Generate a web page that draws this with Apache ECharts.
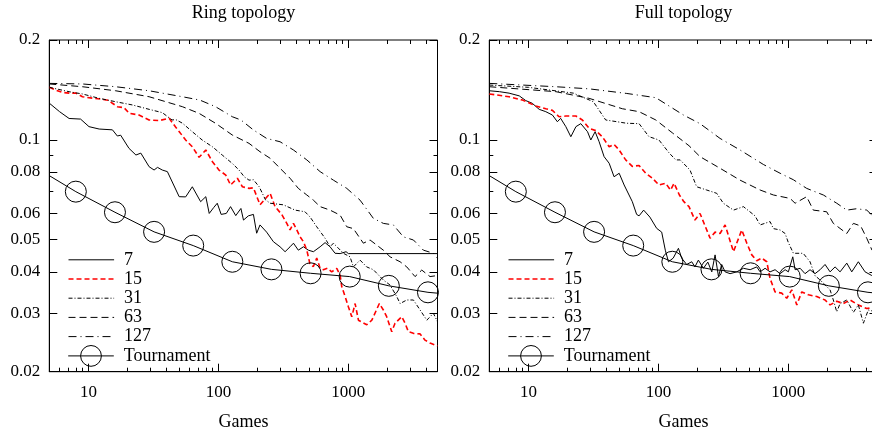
<!DOCTYPE html>
<html><head><meta charset="utf-8">
<script src="https://cdn.jsdelivr.net/npm/echarts@6/dist/echarts.min.js"></script>
<style>html,body{margin:0;padding:0;background:#fff}#c{width:872px;height:434px}</style>
</head><body><div id="c"></div>
<script>
// ---------- tick values ----------
const xMajorTicks = [10, 100, 1000];
const xMinorTicks = [6,7,8,9,20,30,40,50,60,70,80,90,200,300,400,500,600,700,800,900,2000,3000,4000];
const yMajorTicks = [0.2, 0.1, 0.08, 0.06, 0.05, 0.04, 0.03, 0.02];
const yMinorTicks = [0.09, 0.07];
const xRange = [5, 4850];
const yRange = [0.02, 0.2];
const panelTitles = ['Ring topology', 'Full topology'];
const seriesNames = ['7', '15', '31', '63', '127', 'Tournament'];

// ---------- Ring topology ----------
const ring7 = [[5,0.129],[6,0.1216],[7.1,0.116],[8.7,0.1155],[10.1,0.1096],[12.1,0.1078],[15.3,0.1072],[16.7,0.1027],[17.7,0.1033],[20.5,0.0943],[23.2,0.090],[25.3,0.0912],[29.3,0.083],[32,0.0811],[34,0.0826],[37,0.0811],[40.5,0.0802],[49.9,0.0674],[56,0.0673],[63,0.0722],[73,0.0651],[80,0.0674],[85,0.060],[92,0.0625],[98,0.0644],[105,0.0596],[115,0.060],[124,0.0629],[136,0.0591],[149,0.0621],[156,0.0573],[170,0.059],[186,0.0596],[197,0.0523],[209,0.0554],[235,0.0527],[265,0.0493],[298,0.0476],[326,0.046],[356,0.0476],[378,0.0488],[412,0.0465],[451,0.0476],[492,0.0465],[538,0.046],[606,0.0476],[662,0.049],[723,0.0476],[790,0.0455],[864,0.0454],[960,0.046],[1000,0.0454],[4850,0.0454]];
const ring15 = [[5,0.144],[5.6,0.1413],[6.3,0.139],[7.1,0.1383],[8,0.1383],[9,0.1349],[10.7,0.1336],[12.8,0.1325],[14.4,0.1315],[15.3,0.1289],[16.7,0.1259],[18.8,0.125],[20.6,0.1202],[24.5,0.1188],[29.3,0.1148],[35,0.1143],[41.8,0.1161],[47,0.1091],[50,0.1058],[56,0.0999],[63,0.0953],[71,0.0886],[80,0.0932],[90,0.0859],[101,0.0811],[114,0.0783],[124,0.0731],[140,0.0766],[153,0.0722],[172,0.0714],[186,0.0717],[209,0.0637],[250,0.069],[273,0.0629],[307,0.0596],[336,0.056],[356,0.0535],[378,0.056],[401,0.0535],[425,0.051],[451,0.0493],[479,0.0465],[508,0.042],[538,0.0415],[571,0.044],[606,0.041],[642,0.0406],[689,0.041],[744,0.040],[814,0.041],[864,0.0391],[889,0.0361],[944,0.0337],[1000,0.0314],[1062,0.0293],[1127,0.0321],[1195,0.0286],[1386,0.0277],[1515,0.0286],[1731,0.0321],[1858,0.0307],[1971,0.0293],[2156,0.0264],[2286,0.028],[2574,0.0293],[2730,0.028],[2896,0.0264],[3165,0.0261],[3562,0.026],[3890,0.0249],[4250,0.0244],[4850,0.0239]];
const ring31 = [[5,0.144],[7.1,0.1397],[9,0.1375],[12.1,0.1334],[16.2,0.1303],[21.8,0.1274],[29.3,0.1236],[37,0.1208],[44,0.1148],[47,0.1151],[53,0.1122],[63,0.1058],[75,0.0999],[90,0.0953],[107,0.090],[128,0.0849],[144,0.0811],[158,0.0774],[172,0.0756],[186,0.0758],[206,0.0722],[230,0.066],[250,0.0644],[316,0.0637],[389,0.0614],[464,0.0607],[508,0.0585],[571,0.0547],[662,0.0505],[723,0.0476],[767,0.0488],[916,0.0455],[1030,0.0444],[1093,0.0414],[1230,0.0434],[1383,0.0414],[1556,0.0406],[1858,0.0378],[2093,0.0365],[2356,0.0337],[2500,0.0321],[2814,0.0329],[3165,0.0329],[3562,0.0307],[4013,0.0286],[4510,0.030],[4850,0.0283]];
const ring63 = [[5,0.1474],[9,0.1446],[16.2,0.1406],[29.3,0.1349],[52.8,0.1259],[71,0.1202],[95,0.1122],[128,0.1034],[172,0.0976],[209,0.0921],[250,0.088],[298,0.0821],[356,0.0766],[412,0.0714],[479,0.0682],[538,0.0658],[606,0.0629],[723,0.0614],[864,0.0593],[972,0.0547],[1093,0.054],[1304,0.0488],[1468,0.0499],[1858,0.0465],[2093,0.0444],[2500,0.0429],[2814,0.0414],[3258,0.0387],[3670,0.0405],[4250,0.0387],[4850,0.039]];
const ring127 = [[5,0.148],[9,0.1474],[16.2,0.1446],[29.3,0.1406],[52.8,0.1349],[72,0.1318],[95,0.1259],[128,0.1174],[149,0.1148],[186,0.1071],[235,0.101],[298,0.0987],[378,0.0932],[479,0.087],[606,0.0802],[767,0.0756],[972,0.0714],[1230,0.0658],[1556,0.058],[1858,0.056],[2218,0.0554],[2650,0.051],[3165,0.0499],[3778,0.0465],[4510,0.0455],[4850,0.044]];
const ringTournament = [[5,0.078],[8,0.0698],[16,0.0605],[32,0.0528],[64,0.048],[128,0.0429],[256,0.0407],[512,0.0396],[1024,0.0387],[2048,0.0363],[4096,0.0347],[4850,0.0345]];

// ---------- Full topology ----------
const full7 = [[5,0.1406],[6,0.1397],[7.1,0.1383],[8.5,0.1357],[9.55,0.1313],[10.7,0.1289],[12.1,0.1236],[13.6,0.1216],[15.3,0.1188],[16.7,0.1134],[17.7,0.1161],[19.4,0.1096],[21.2,0.1022],[23.2,0.1096],[25.3,0.1119],[28.5,0.1058],[30.2,0.0999],[32.6,0.1058],[35,0.0987],[38.2,0.089],[41.8,0.085],[45.6,0.0774],[49.9,0.0793],[54.5,0.0731],[63,0.0651],[68,0.0596],[71,0.059],[77,0.0614],[86,0.0585],[97,0.0541],[106,0.0527],[113,0.0465],[119.5,0.0429],[130,0.044],[142.6,0.0471],[151,0.044],[165,0.0421],[180.6,0.0429],[191,0.0414],[203,0.0434],[222,0.041],[240,0.0428],[257.5,0.040],[273,0.045],[290,0.0387],[307,0.0421],[326,0.040],[356,0.0395],[400,0.040],[451,0.041],[508,0.0406],[571,0.0414],[606,0.040],[662,0.041],[723,0.040],[790,0.0406],[864,0.0395],[944,0.0406],[1000,0.040],[1081,0.0444],[1127,0.0406],[1232,0.041],[1343,0.0395],[1468,0.0406],[1604,0.0395],[1754,0.0406],[1915,0.0421],[2093,0.040],[2287,0.0414],[2500,0.040],[2814,0.0425],[3074,0.040],[3454,0.0429],[3890,0.040],[4380,0.039],[4850,0.039]];
const full15 = [[5,0.1375],[7.1,0.1349],[9,0.1318],[11.4,0.1265],[13.6,0.1241],[15.3,0.1227],[17.2,0.1174],[19.4,0.118],[23.2,0.118],[26,0.1148],[29.3,0.1083],[33,0.1066],[37,0.1022],[41.8,0.0953],[45.6,0.0969],[49.9,0.0932],[56,0.087],[63,0.0832],[71,0.0837],[80,0.0793],[90,0.0766],[101,0.0731],[113.6,0.074],[124,0.0706],[132,0.074],[145,0.0682],[157,0.0651],[172,0.0629],[191,0.0573],[209,0.060],[250,0.0505],[273,0.0527],[298,0.0522],[326,0.0554],[378,0.046],[438,0.0535],[479,0.0488],[523,0.045],[571,0.0432],[624,0.044],[682,0.0429],[723,0.0382],[790,0.0348],[889,0.0345],[972,0.0333],[1062,0.0353],[1161,0.0318],[1268,0.0348],[1426,0.0341],[1652,0.0337],[1915,0.0329],[2093,0.0318],[2357,0.0326],[2650,0.0321],[2984,0.0329],[3454,0.0318],[4010,0.031],[4850,0.0314]];
const full31 = [[5,0.1463],[10,0.144],[22.2,0.1383],[31.6,0.1303],[39.3,0.1148],[57.1,0.1122],[71,0.1119],[84.7,0.1022],[101,0.0999],[121,0.0913],[136,0.087],[147,0.087],[175,0.0811],[197,0.0722],[235,0.0706],[281,0.069],[316,0.0644],[378,0.0614],[451,0.0629],[554,0.059],[606,0.0554],[723,0.0567],[767,0.054],[864,0.0535],[944,0.0522],[1000,0.049],[1093,0.0455],[1300,0.0455],[1468,0.0429],[1600,0.039],[1754,0.0378],[2093,0.0353],[2218,0.0329],[2357,0.0303],[2500,0.0321],[2814,0.0329],[3165,0.0302],[3454,0.0318],[3778,0.028],[4120,0.0307],[4850,0.0302]];
const full63 = [[5,0.1446],[16.3,0.1397],[29.3,0.1334],[52.8,0.1241],[71,0.1216],[95.5,0.1148],[128,0.105],[172,0.096],[209,0.089],[298,0.0821],[425,0.0756],[606,0.0706],[767,0.0682],[1030,0.0666],[1127,0.0644],[1383,0.0674],[1556,0.0614],[1971,0.0607],[2218,0.056],[2814,0.0522],[3165,0.056],[3600,0.055],[4010,0.0505],[4400,0.0465],[4850,0.0465]];
const full127 = [[5,0.148],[16.2,0.1446],[29.3,0.1425],[57.1,0.138],[95.5,0.134],[156,0.1188],[209,0.1119],[298,0.101],[425,0.0932],[642,0.0843],[864,0.0793],[1093,0.0758],[1383,0.0714],[1858,0.0682],[2357,0.0644],[2814,0.0614],[3358,0.062],[4010,0.0614],[4400,0.0593],[4850,0.058]];
const fullTournament = [[5,0.078],[8,0.0698],[16,0.0605],[32,0.0528],[64,0.048],[128,0.0429],[256,0.0407],[512,0.0396],[1024,0.0387],[2048,0.0363],[4096,0.0347],[4850,0.0345]];

const panels = [
  [ring7, ring15, ring31, ring63, ring127, ringTournament],
  [full7, full15, full31, full63, full127, fullTournament]
];

// ---------- styles ----------
const FONT = 'Liberation Serif';
const lineStyles = [
  {color:'#000', width:1, type:'solid'},
  {color:'#ff0000', width:1.6, type:[5,3]},
  {color:'#000', width:1, type:[4,2,1,2]},
  {color:'#000', width:1, type:[7,4]},
  {color:'#000', width:1, type:[8,4,1,4]},
  {color:'#000', width:1, type:'solid'}
];
const gridLefts = [49.3, 489.3];
const gridTop = 40, gridW = 388.2, gridH = 331.7;

const fmtX = v => String(Math.round(v));
const fmtY = v => String(Math.round(v * 1000) / 1000);

const grids = [], xAxes = [], yAxes = [], series = [], titles = [], legends = [];
panels.forEach((data, g) => {
  grids.push({left: gridLefts[g], top: gridTop, width: gridW, height: gridH, show: true,
    borderColor: '#000', borderWidth: 1, backgroundColor: 'transparent', containLabel: false,
    outerBoundsMode: 'none'});
  titles.push({text: panelTitles[g], left: gridLefts[g] + gridW / 2, top: 4, textAlign: 'center', padding: 0,
    textStyle: {fontFamily: FONT, fontSize: 18, fontWeight: 'normal', color: '#000'}});
  const base = {type: 'log', logBase: 10, gridIndex: g, splitLine: {show: false}, silent: true};
  [['bottom', xMajorTicks, 8, true], ['bottom', xMinorTicks, 4, false], ['top', xMajorTicks, 8, false], ['top', xMinorTicks, 4, false]]
    .forEach(([pos, ticks, len, lab], k) => {
      xAxes.push(Object.assign({}, base, {
        position: pos, min: xRange[0], max: xRange[1],
        axisLine: {show: k === 0, onZero: false, lineStyle: {color: '#000', width: 1}},
        axisTick: {show: true, inside: true, length: len, customValues: ticks, lineStyle: {color: '#000', width: 1}},
        axisLabel: {show: lab, customValues: ticks, formatter: fmtX, margin: 12, color: '#000', fontFamily: FONT, fontSize: 17},
        name: k === 0 ? 'Games' : '', nameLocation: 'middle', nameGap: 42,
        nameTextStyle: {fontFamily: FONT, fontSize: 18, color: '#000'}
      }));
    });
  [['left', yMajorTicks, 8, true], ['left', yMinorTicks, 4, false], ['right', yMajorTicks, 8, false], ['right', yMinorTicks, 4, false]]
    .forEach(([pos, ticks, len, lab], k) => {
      yAxes.push(Object.assign({}, base, {
        position: pos, min: yRange[0], max: yRange[1],
        axisLine: {show: k === 0, onZero: false, lineStyle: {color: '#000', width: 1}},
        axisTick: {show: true, inside: true, length: len, customValues: ticks, lineStyle: {color: '#000', width: 1}},
        axisLabel: {show: lab, customValues: ticks, formatter: fmtY, margin: 9, color: '#000', fontFamily: FONT, fontSize: 17}
      }));
    });
  data.forEach((pts, i) => {
    const isT = i === 5;
    series.push({
      type: 'line', name: seriesNames[i], xAxisIndex: 4 * g, yAxisIndex: 4 * g,
      data: isT ? pts.map((p, j) => (j === 0 || j === pts.length - 1) ? {value: p, symbol: 'none'} : p) : pts,
      symbol: 'circle', symbolSize: isT ? 21 : 4, showSymbol: isT, showAllSymbol: true,
      itemStyle: isT ? {color: 'rgba(255,255,255,0)', borderColor: '#000', borderWidth: 1} : {color: '#000', opacity: 0},
      lineStyle: lineStyles[i], silent: true, animation: false, clip: true,
      emphasis: {disabled: true}, z: isT ? 3 : 2
    });
  });
  const lx = gridLefts[g] + 18.4;
  legends.push({data: seriesNames.slice(0, 5), orient: 'vertical', left: lx, top: 250.2, itemWidth: 45.6, itemHeight: 19.2,
    itemGap: 0, padding: 0, selectedMode: false,
    lineStyle: {width: 'inherit'},
    textStyle: {fontFamily: FONT, fontSize: 18, color: '#000', lineHeight: 19.2, padding: [0, 0, 0, 5]}});
  legends.push({data: ['Tournament'], orient: 'vertical', left: lx, top: 345, itemWidth: 45.6, itemHeight: 26,
    itemGap: 0, padding: 0, selectedMode: false,
    lineStyle: {width: 'inherit'}, itemStyle: {borderWidth: 1},
    textStyle: {fontFamily: FONT, fontSize: 18, color: '#000', padding: [0, 0, 0, 5]}});
});

const chart = echarts.init(document.getElementById('c'), null, {renderer: 'canvas'});
chart.setOption({
  animation: false,
  backgroundColor: '#fff',
  title: titles,
  grid: grids,
  xAxis: xAxes,
  yAxis: yAxes,
  legend: legends,
  series: series
});
</script>
</body></html>
